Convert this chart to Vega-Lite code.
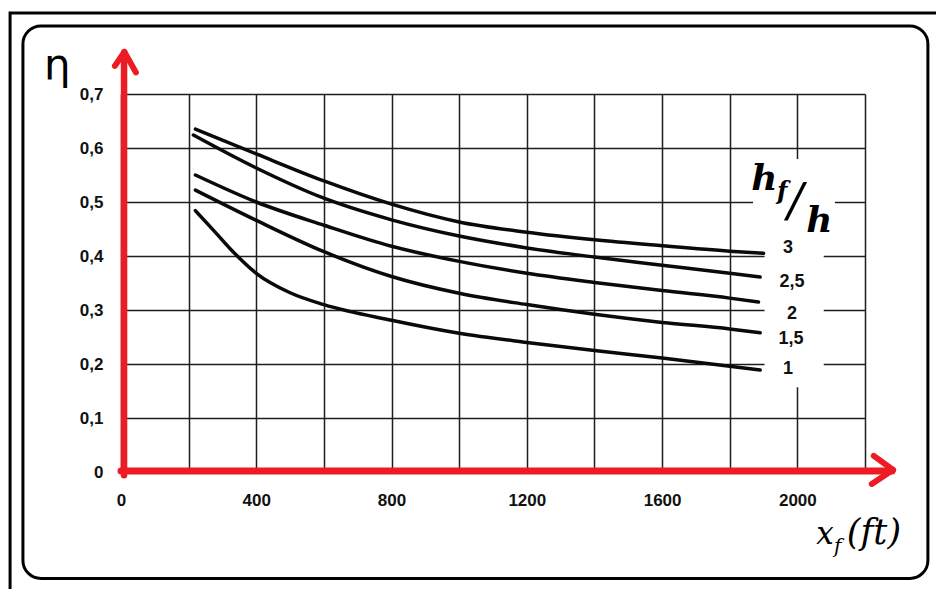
{
  "$schema": "https://vega.github.io/schema/vega-lite/v6.json",
  "width": 744,
  "height": 378,
  "autosize": {"type": "none"},
  "padding": {"left": 121, "top": 94, "right": 71, "bottom": 117},
  "background": "white",
  "config": {"view": {"stroke": null}},
  "datasets": {
    "curves": [
      {"x": 220, "eta": 0.635, "hf": "3"},
      {"x": 400, "eta": 0.589, "hf": "3"},
      {"x": 600, "eta": 0.539, "hf": "3"},
      {"x": 800, "eta": 0.496, "hf": "3"},
      {"x": 1000, "eta": 0.463, "hf": "3"},
      {"x": 1200, "eta": 0.444, "hf": "3"},
      {"x": 1400, "eta": 0.43, "hf": "3"},
      {"x": 1600, "eta": 0.419, "hf": "3"},
      {"x": 1800, "eta": 0.409, "hf": "3"},
      {"x": 1900, "eta": 0.405, "hf": "3"},
      {"x": 214, "eta": 0.624, "hf": "2,5"},
      {"x": 400, "eta": 0.563, "hf": "2,5"},
      {"x": 600, "eta": 0.507, "hf": "2,5"},
      {"x": 800, "eta": 0.467, "hf": "2,5"},
      {"x": 1000, "eta": 0.437, "hf": "2,5"},
      {"x": 1200, "eta": 0.415, "hf": "2,5"},
      {"x": 1400, "eta": 0.398, "hf": "2,5"},
      {"x": 1600, "eta": 0.383, "hf": "2,5"},
      {"x": 1800, "eta": 0.368, "hf": "2,5"},
      {"x": 1890, "eta": 0.361, "hf": "2,5"},
      {"x": 220, "eta": 0.55, "hf": "2"},
      {"x": 400, "eta": 0.5, "hf": "2"},
      {"x": 600, "eta": 0.457, "hf": "2"},
      {"x": 800, "eta": 0.418, "hf": "2"},
      {"x": 1000, "eta": 0.39, "hf": "2"},
      {"x": 1200, "eta": 0.368, "hf": "2"},
      {"x": 1400, "eta": 0.351, "hf": "2"},
      {"x": 1600, "eta": 0.336, "hf": "2"},
      {"x": 1800, "eta": 0.322, "hf": "2"},
      {"x": 1885, "eta": 0.315, "hf": "2"},
      {"x": 220, "eta": 0.522, "hf": "1,5"},
      {"x": 400, "eta": 0.466, "hf": "1,5"},
      {"x": 600, "eta": 0.408, "hf": "1,5"},
      {"x": 800, "eta": 0.362, "hf": "1,5"},
      {"x": 1000, "eta": 0.331, "hf": "1,5"},
      {"x": 1200, "eta": 0.31, "hf": "1,5"},
      {"x": 1400, "eta": 0.292, "hf": "1,5"},
      {"x": 1600, "eta": 0.277, "hf": "1,5"},
      {"x": 1800, "eta": 0.265, "hf": "1,5"},
      {"x": 1890, "eta": 0.258, "hf": "1,5"},
      {"x": 220, "eta": 0.484, "hf": "1"},
      {"x": 273, "eta": 0.448, "hf": "1"},
      {"x": 322, "eta": 0.414, "hf": "1"},
      {"x": 400, "eta": 0.368, "hf": "1"},
      {"x": 500, "eta": 0.332, "hf": "1"},
      {"x": 600, "eta": 0.31, "hf": "1"},
      {"x": 800, "eta": 0.281, "hf": "1"},
      {"x": 1000, "eta": 0.257, "hf": "1"},
      {"x": 1200, "eta": 0.24, "hf": "1"},
      {"x": 1400, "eta": 0.225, "hf": "1"},
      {"x": 1600, "eta": 0.211, "hf": "1"},
      {"x": 1800, "eta": 0.196, "hf": "1"},
      {"x": 1890, "eta": 0.189, "hf": "1"}
    ],
    "labels": [
      {"lx": 1972, "ly": 0.414, "t": "3"},
      {"lx": 1984, "ly": 0.351, "t": "2,5"},
      {"lx": 1984, "ly": 0.293, "t": "2"},
      {"lx": 1981, "ly": 0.247, "t": "1,5"},
      {"lx": 1972, "ly": 0.19, "t": "1"}
    ]
  },
  "layer": [
    {
      "data": {"values": [{}]},
      "mark": {"type": "rect", "fill": "transparent", "stroke": "#000", "strokeWidth": 3, "clip": false},
      "encoding": {
        "x": {"datum": -328, "type": "quantitative", "scale": {"domain": [0, 2200], "nice": false, "zero": false}},
        "x2": {"datum": 2460},
        "y": {"datum": 0.85, "type": "quantitative", "scale": {"domain": [0, 0.7], "nice": false, "zero": false}},
        "y2": {"datum": -0.24}
      }
    },
    {
      "data": {"values": [{}]},
      "mark": {"type": "rect", "fill": "transparent", "stroke": "#000", "strokeWidth": 3, "cornerRadius": 18, "clip": false},
      "encoding": {
        "x": {"datum": -290, "type": "quantitative"},
        "x2": {"datum": 2386},
        "y": {"datum": 0.826, "type": "quantitative"},
        "y2": {"datum": -0.197}
      }
    },
    {
      "data": {"values": [{}]},
      "mark": {"type": "rect", "fill": "white", "clip": false},
      "encoding": {
        "x": {"datum": 1903, "type": "quantitative"},
        "x2": {"datum": 2078},
        "y": {"datum": 0.579, "type": "quantitative"},
        "y2": {"datum": 0.157}
      }
    },
    {
      "data": {"values": [{}]},
      "mark": {"type": "rect", "fill": "white", "clip": false},
      "encoding": {
        "x": {"datum": 1869, "type": "quantitative"},
        "x2": {"datum": 2111},
        "y": {"datum": 0.579, "type": "quantitative"},
        "y2": {"datum": 0.475}
      }
    },
    {
      "data": {"name": "curves"},
      "mark": {"type": "line", "color": "#0a0a0a", "strokeWidth": 3.5, "interpolate": "monotone", "strokeCap": "round"},
      "encoding": {
        "x": {
          "field": "x", "type": "quantitative",
          "scale": {"domain": [0, 2200], "nice": false, "zero": false},
          "axis": {
            "values": [0, 200, 400, 600, 800, 1000, 1200, 1400, 1600, 1800, 2000, 2200],
            "labelExpr": "datum.value % 400 == 0 && datum.value <= 2000 ? datum.value : ''",
            "grid": true, "gridColor": "#1e1e1e", "gridWidth": 1.5, "gridOpacity": 1,
            "domain": false, "ticks": false, "title": null,
            "labelFlush": false, "labelOverlap": false, "labelPadding": 20,
            "labelFont": "Liberation Sans", "labelFontWeight": "bold", "labelFontSize": 17, "labelColor": "#111"
          }
        },
        "y": {
          "field": "eta", "type": "quantitative",
          "scale": {"domain": [0, 0.7], "nice": false, "zero": false},
          "axis": {
            "values": [0, 0.1, 0.2, 0.3, 0.4, 0.5, 0.6, 0.7],
            "labelExpr": "datum.value == 0 ? '0' : replace(format(datum.value, '.1f'), '.', ',')",
            "grid": true, "gridColor": "#1e1e1e", "gridWidth": 1.5, "gridOpacity": 1,
            "domain": false, "ticks": false, "title": null,
            "labelFlush": false, "labelOverlap": false, "labelPadding": 18,
            "labelFont": "Liberation Sans", "labelFontWeight": "bold", "labelFontSize": 17, "labelColor": "#111"
          }
        },
        "detail": {"field": "hf", "type": "nominal"}
      }
    },
    {
      "data": {"values": [{}]},
      "mark": {"type": "rule", "color": "#ed1c24", "strokeWidth": 6.5, "clip": false, "strokeCap": "round"},
      "encoding": {
        "x": {"datum": 9, "type": "quantitative"},
        "y": {"datum": -0.006, "type": "quantitative"},
        "y2": {"datum": 0.776}
      }
    },
    {
      "data": {"values": [{}]},
      "mark": {"type": "rule", "color": "#ed1c24", "strokeWidth": 7, "clip": false, "strokeCap": "round"},
      "encoding": {
        "x": {"datum": 0, "type": "quantitative"},
        "x2": {"datum": 2280},
        "y": {"datum": 0.002, "type": "quantitative"}
      }
    },
    {
      "data": {"values": [{}]},
      "mark": {"type": "rule", "color": "#ed1c24", "strokeWidth": 6, "clip": false, "strokeCap": "round"},
      "encoding": {
        "x": {"datum": -18, "type": "quantitative"},
        "y": {"datum": 0.752, "type": "quantitative"},
        "x2": {"datum": 10},
        "y2": {"datum": 0.778}
      }
    },
    {
      "data": {"values": [{}]},
      "mark": {"type": "rule", "color": "#ed1c24", "strokeWidth": 6, "clip": false, "strokeCap": "round"},
      "encoding": {
        "x": {"datum": 44, "type": "quantitative"},
        "y": {"datum": 0.74, "type": "quantitative"},
        "x2": {"datum": 10},
        "y2": {"datum": 0.778}
      }
    },
    {
      "data": {"values": [{}]},
      "mark": {"type": "rule", "color": "#ed1c24", "strokeWidth": 6, "clip": false, "strokeCap": "round"},
      "encoding": {
        "x": {"datum": 2226, "type": "quantitative"},
        "y": {"datum": 0.03, "type": "quantitative"},
        "x2": {"datum": 2283},
        "y2": {"datum": 0.004}
      }
    },
    {
      "data": {"values": [{}]},
      "mark": {"type": "rule", "color": "#ed1c24", "strokeWidth": 6, "clip": false, "strokeCap": "round"},
      "encoding": {
        "x": {"datum": 2220, "type": "quantitative"},
        "y": {"datum": -0.022, "type": "quantitative"},
        "x2": {"datum": 2283},
        "y2": {"datum": 0.004}
      }
    },
    {
      "data": {"name": "labels"},
      "mark": {"type": "text", "font": "Liberation Sans", "fontWeight": "bold", "fontSize": 18, "color": "#111", "align": "center", "baseline": "middle", "clip": false},
      "encoding": {
        "x": {"field": "lx", "type": "quantitative"},
        "y": {"field": "ly", "type": "quantitative"},
        "text": {"field": "t"}
      }
    },
    {
      "data": {"values": [{}]},
      "mark": {"type": "text", "text": "η", "font": "DejaVu Sans", "fontSize": 42, "color": "#000", "align": "center", "baseline": "alphabetic", "clip": false},
      "encoding": {"x": {"datum": -188, "type": "quantitative"}, "y": {"datum": 0.728, "type": "quantitative"}}
    },
    {
      "data": {"values": [{}]},
      "mark": {"type": "text", "text": "x", "font": "DejaVu Serif", "fontStyle": "italic", "fontSize": 31, "color": "#000", "align": "left", "baseline": "alphabetic", "clip": false},
      "encoding": {"x": {"datum": 2056, "type": "quantitative"}, "y": {"datum": -0.134, "type": "quantitative"}}
    },
    {
      "data": {"values": [{}]},
      "mark": {"type": "text", "text": "f", "font": "DejaVu Serif", "fontStyle": "italic", "fontSize": 20, "color": "#000", "align": "left", "baseline": "alphabetic", "clip": false},
      "encoding": {"x": {"datum": 2108, "type": "quantitative"}, "y": {"datum": -0.15, "type": "quantitative"}}
    },
    {
      "data": {"values": [{}]},
      "mark": {"type": "text", "text": "(ft)", "font": "DejaVu Serif", "fontStyle": "italic", "fontSize": 35, "color": "#000", "align": "left", "baseline": "alphabetic", "clip": false},
      "encoding": {"x": {"datum": 2146, "type": "quantitative"}, "y": {"datum": -0.134, "type": "quantitative"}}
    },
    {
      "data": {"values": [{}]},
      "mark": {"type": "text", "text": "h", "font": "DejaVu Serif", "fontStyle": "italic", "fontWeight": "bold", "fontSize": 36, "color": "#000", "align": "left", "baseline": "alphabetic", "clip": false},
      "encoding": {"x": {"datum": 1864, "type": "quantitative"}, "y": {"datum": 0.522, "type": "quantitative"}}
    },
    {
      "data": {"values": [{}]},
      "mark": {"type": "text", "text": "f", "font": "DejaVu Serif", "fontStyle": "italic", "fontWeight": "bold", "fontSize": 24, "color": "#000", "align": "left", "baseline": "alphabetic", "clip": false},
      "encoding": {"x": {"datum": 1940, "type": "quantitative"}, "y": {"datum": 0.506, "type": "quantitative"}}
    },
    {
      "data": {"values": [{}]},
      "mark": {"type": "text", "text": "/", "font": "Liberation Serif", "fontStyle": "italic", "fontWeight": "bold", "fontSize": 56, "color": "#000", "align": "left", "baseline": "alphabetic", "clip": false},
      "encoding": {"x": {"datum": 1970, "type": "quantitative"}, "y": {"datum": 0.466, "type": "quantitative"}}
    },
    {
      "data": {"values": [{}]},
      "mark": {"type": "text", "text": "h", "font": "DejaVu Serif", "fontStyle": "italic", "fontWeight": "bold", "fontSize": 36, "color": "#000", "align": "left", "baseline": "alphabetic", "clip": false},
      "encoding": {"x": {"datum": 2026, "type": "quantitative"}, "y": {"datum": 0.444, "type": "quantitative"}}
    }
  ]
}
